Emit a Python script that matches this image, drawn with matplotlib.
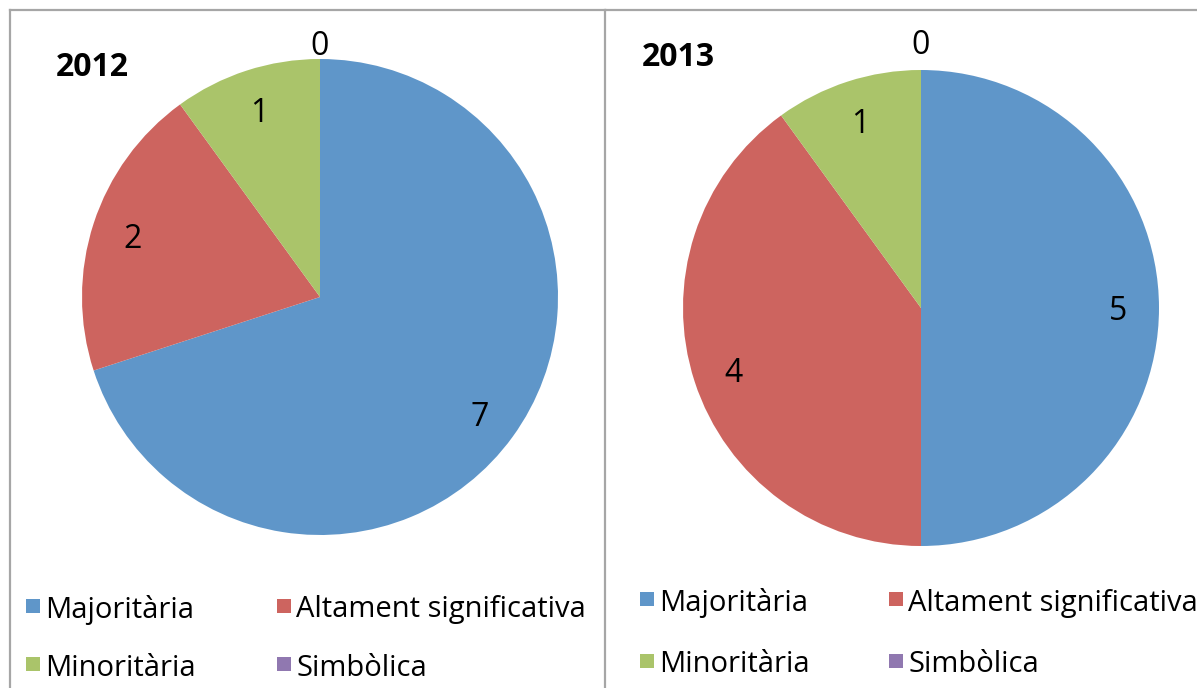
import matplotlib.pyplot as plt
import numpy as np
from matplotlib.lines import Line2D
from matplotlib.patches import Rectangle

categories = ["Majoritària", "Altament significativa", "Minoritària", "Simbòlica"]
years = ["2012", "2013"]
values_2012 = [7, 2, 1, 0]
values_2013 = [5, 4, 1, 0]
colors = ["#5f96c9", "#cd645f", "#aac46a", "#9078b0"]

W, H = 1197, 688
plt.rcParams["font.family"] = ["Open Sans", "DejaVu Sans"]

fig = plt.figure(figsize=(W / 100, H / 100), dpi=100)


def fx(px):
    return px / W


def fy(py):
    return 1 - py / H


def draw_pie(cx, cy, r, values, title, title_xy, legend_xy, zero_dist):
    ax = fig.add_axes([fx(cx - r), fy(cy + r), fx(2 * r), 2 * r / H])
    wedges, _ = ax.pie(values, colors=colors, startangle=90, counterclock=False,
                       radius=1.0, wedgeprops=dict(linewidth=0))
    ax.set_xlim(-1, 1)
    ax.set_ylim(-1, 1)
    ax.axis("off")
    for w, v in zip(wedges, values):
        ang = np.deg2rad((w.theta1 + w.theta2) / 2)
        d = 0.83 if v > 0 else zero_dist
        ax.text(d * np.cos(ang), d * np.sin(ang), str(v), ha="center", va="center_baseline",
                fontsize=23, color="black", clip_on=False)
    fig.text(fx(title_xy[0]), fy(title_xy[1]), title, ha="center", va="center",
             fontsize=23, fontweight="bold")
    # legend, two columns
    lx, ly, col_dx, row_dy = legend_xy
    for i, (name, c) in enumerate(zip(categories, colors)):
        x0 = lx + (i % 2) * col_dx
        y0 = ly + (i // 2) * row_dy
        fig.add_artist(Rectangle((fx(x0), fy(y0 + 5)), fx(14), 14 / H,
                                 transform=fig.transFigure, color=c, lw=0))
        fig.text(fx(x0 + 19), fy(y0 + 2), name, ha="left", va="center", fontsize=21)


draw_pie(320, 297, 238, values_2012, years[0], (92, 67), (26, 608, 251, 58), 1.07)
draw_pie(921, 308, 238, values_2013, years[1], (678, 57), (640, 601, 249, 62), 1.12)

border = "#a6a6a6"
for (x1, y1, x2, y2) in [(10, 10, 605, 10), (10, 10, 10, 700), (605, 10, 605, 700),
                         (606, 10, 1200, 10)]:
    fig.add_artist(Line2D([fx(x1), fx(x2)], [fy(y1), fy(y2)], transform=fig.transFigure,
                          color=border, lw=1.6))

fig.savefig("out.png", dpi=100)
